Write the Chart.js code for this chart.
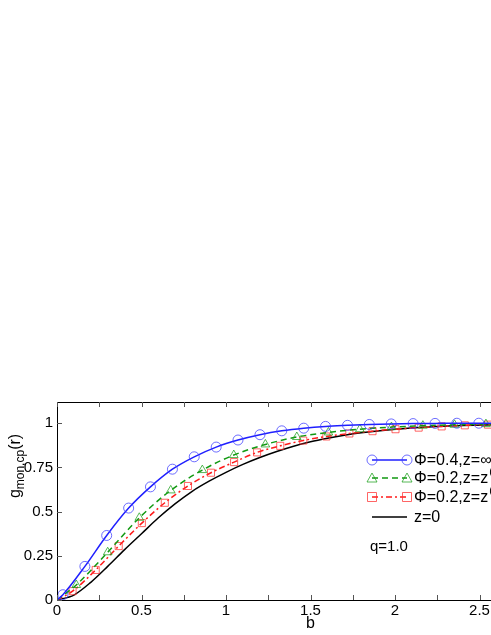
<!DOCTYPE html>
<html>
<head>
<meta charset="utf-8">
<script src="https://cdn.jsdelivr.net/npm/chart.js@4.4.1/dist/chart.umd.min.js"></script>
<style>
html, body { margin: 0; padding: 0; background: #fff; overflow: hidden; }
#wrap { width: 491px; height: 635px; overflow: hidden; position: relative; }
canvas { position: absolute; left: 0; top: 0; }
</style>
</head>
<body>
<div id="wrap"><canvas id="c" width="600" height="635"></canvas></div>
<script>
// values
const phi04X = [0, 0.035, 0.165, 0.294, 0.424, 0.553, 0.683, 0.812, 0.942, 1.071, 1.201, 1.33, 1.46, 1.589, 1.719, 1.848, 1.978, 2.107, 2.237, 2.366, 2.496, 2.625, 2.755, 2.884]
const phi04Y = [0, 0.03, 0.19, 0.365, 0.52, 0.64, 0.74, 0.81, 0.865, 0.905, 0.935, 0.957, 0.972, 0.982, 0.988, 0.993, 0.996, 0.998, 0.999, 1, 1, 1, 1, 1]

const z1X = [0, 0.114, 0.3, 0.487, 0.673, 0.86, 1.046, 1.233, 1.419, 1.606, 1.792, 1.979, 2.165, 2.352, 2.538, 2.725, 2.911]
const z1Y = [0, 0.085, 0.27, 0.465, 0.62, 0.735, 0.82, 0.88, 0.922, 0.948, 0.966, 0.978, 0.986, 0.991, 0.995, 0.997, 0.998]

const z2X = [0, 0.092, 0.229, 0.365, 0.502, 0.638, 0.775, 0.911, 1.048, 1.184, 1.321, 1.457, 1.594, 1.73, 1.867, 2.003, 2.14, 2.276, 2.413, 2.55, 2.686, 2.823, 2.959]
const z2Y = [0, 0.05, 0.17, 0.305, 0.435, 0.55, 0.645, 0.72, 0.78, 0.835, 0.872, 0.902, 0.925, 0.942, 0.955, 0.966, 0.975, 0.982, 0.988, 0.992, 0.994, 0.996, 0.997]

const z0X = [0, 0.1, 0.2, 0.3, 0.4, 0.5, 0.6, 0.7, 0.8, 0.9, 1.0, 1.1, 1.2, 1.3, 1.4, 1.5, 1.6, 1.7, 1.8, 2.0, 2.2, 2.4, 2.6, 2.8, 3.0]
const z0Y = [0, 0.028, 0.1, 0.19, 0.285, 0.375, 0.465, 0.545, 0.615, 0.672, 0.722, 0.767, 0.806, 0.84, 0.87, 0.895, 0.915, 0.932, 0.946, 0.966, 0.979, 0.987, 0.992, 0.995, 0.997]

const seriesNames = ['Φ=0.4,z=∞', 'Φ=0.2,z=z', 'Φ=0.2,z=z', 'z=0']
const seriesSup = ['', '(1)', '(2)', '']
const xTicks = [0, 0.25, 0.5, 0.75, 1, 1.25, 1.5, 1.75, 2, 2.25, 2.5, 2.75, 3]
const xTickLabels = ['0', '', '0.5', '', '1', '', '1.5', '', '2', '', '2.5', '', '3']
const yTicks = [0, 0.25, 0.5, 0.75, 1]
const yTickLabels = ['0', '0.25', '0.5', '0.75', '1']

const FONT = '"Liberation Sans", Arial, sans-serif'

const toPts = (xs, ys) => xs.map((x, i) => ({ x: x, y: ys[i] }))

const markerStyles = ['circle', 'triangle', 'rect', null]

const drawMarker = (ctx, style, x, y, color) => {
    ctx.save()
    ctx.setLineDash([])
    ctx.strokeStyle = color
    ctx.lineWidth = 1
    ctx.beginPath()
    if (style == 'circle') {
        ctx.arc(x, y, 5, 0, Math.PI * 2)
    } else if (style == 'triangle') {
        ctx.moveTo(x, y - 5)
        ctx.lineTo(x + 5, y + 4)
        ctx.lineTo(x - 5, y + 4)
        ctx.closePath()
    } else if (style == 'rect') {
        ctx.rect(x - 4.5, y - 4.5, 9, 9)
    }
    ctx.stroke()
    ctx.restore()
}

const framePlugin = {
    id: 'frame',
    afterDraw: chart => {
        const ctx = chart.ctx
        const a = chart.chartArea
        const xs = chart.scales.x
        const ys = chart.scales.y
        ctx.save()
        // box
        ctx.strokeStyle = '#000'
        ctx.lineWidth = 1
        ctx.strokeRect(a.left + 0.5, a.top + 0.5, a.right - a.left, a.bottom - a.top)
        // inner ticks
        ctx.strokeStyle = '#555'
        ctx.beginPath()
        xTicks.forEach(v => {
            const px = Math.round(xs.getPixelForValue(v)) + 0.5
            ctx.moveTo(px, a.bottom); ctx.lineTo(px, a.bottom - 5)
            ctx.moveTo(px, a.top); ctx.lineTo(px, a.top + 5)
        })
        yTicks.forEach(v => {
            const py = Math.round(ys.getPixelForValue(v)) + 0.5
            ctx.moveTo(a.left, py); ctx.lineTo(a.left + 5, py)
            ctx.moveTo(a.right, py); ctx.lineTo(a.right - 5, py)
        })
        ctx.stroke()

        // y title with subscript
        ctx.save()
        ctx.translate(15, 466)
        ctx.rotate(-Math.PI / 2)
        ctx.fillStyle = '#000'
        ctx.textBaseline = 'alphabetic'
        ctx.font = '16px ' + FONT
        const w1 = ctx.measureText('g').width
        const w3 = ctx.measureText('(r)').width
        ctx.font = '12px ' + FONT
        const w2 = ctx.measureText('mon,cp').width
        let x0 = -(w1 + w2 + w3) / 2
        ctx.font = '16px ' + FONT
        ctx.fillText('g', x0, 5)
        ctx.font = '12px ' + FONT
        ctx.fillText('mon,cp', x0 + w1, 9)
        ctx.font = '16px ' + FONT
        ctx.fillText('(r)', x0 + w1 + w2, 5)
        ctx.restore()

        // legend
        const rows = [460, 478, 497, 517]
        const lx1 = 372, lx2 = 407, tx = 414
        chart.data.datasets.forEach((ds, i) => {
            const y = rows[i]
            ctx.save()
            ctx.strokeStyle = ds.borderColor
            ctx.lineWidth = ds.borderWidth
            ctx.setLineDash(ds.borderDash || [])
            ctx.beginPath()
            ctx.moveTo(lx1, y); ctx.lineTo(lx2, y)
            ctx.stroke()
            ctx.restore()
            if (markerStyles[i]) {
                drawMarker(ctx, markerStyles[i], lx1, y, ds.pointBorderColor)
                drawMarker(ctx, markerStyles[i], lx2, y, ds.pointBorderColor)
            }
            ctx.fillStyle = '#000'
            ctx.textBaseline = 'middle'
            ctx.font = '16px ' + FONT
            ctx.fillText(seriesNames[i], tx, y + 1)
            if (seriesSup[i]) {
                const w = ctx.measureText(seriesNames[i]).width
                ctx.font = '11px ' + FONT
                ctx.fillText(seriesSup[i], tx + w + 1, y - 6)
            }
        })
        ctx.font = '15px ' + FONT
        ctx.textBaseline = 'middle'
        ctx.fillText('q=1.0', 370, 547)
        ctx.restore()
    }
}

new Chart('c', {
    type: 'line',
    data: {
        datasets: [{
            label: seriesNames[0],
            data: toPts(phi04X, phi04Y),
            borderColor: '#1f1fff',
            borderWidth: 1.5,
            pointStyle: 'circle',
            pointRadius: c => c.dataIndex == 0 ? 0 : 5,
            pointBorderColor: 'rgba(60,60,255,0.75)',
            pointBackgroundColor: 'rgba(0,0,0,0)',
            pointBorderWidth: 1,
            cubicInterpolationMode: 'monotone'
        }, {
            label: seriesNames[1],
            data: toPts(z1X, z1Y),
            borderColor: '#119911',
            borderWidth: 1.5,
            borderDash: [6, 4],
            pointStyle: 'triangle',
            pointRadius: c => c.dataIndex == 0 ? 0 : 5,
            pointBorderColor: 'rgba(30,160,30,0.75)',
            pointBackgroundColor: 'rgba(0,0,0,0)',
            pointBorderWidth: 1,
            cubicInterpolationMode: 'monotone'
        }, {
            label: seriesNames[2],
            data: toPts(z2X, z2Y),
            borderColor: '#ff1a1a',
            borderWidth: 1.5,
            borderDash: [6, 3, 2, 3],
            pointStyle: 'rect',
            pointRadius: c => c.dataIndex == 0 ? 0 : 5,
            pointBorderColor: 'rgba(255,50,50,0.75)',
            pointBackgroundColor: 'rgba(0,0,0,0)',
            pointBorderWidth: 1,
            cubicInterpolationMode: 'monotone'
        }, {
            label: seriesNames[3],
            data: toPts(z0X, z0Y),
            borderColor: '#000',
            borderWidth: 1.5,
            pointRadius: 0,
            pointBorderColor: '#000',
            cubicInterpolationMode: 'monotone'
        }]
    },
    options: {
        responsive: false,
        animation: false,
        devicePixelRatio: 1,
        layout: { padding: { top: 402, right: 36, bottom: 0, left: 0 } },
        plugins: { legend: { display: false }, tooltip: { enabled: false } },
        scales: {
            x: {
                type: 'linear', min: 0, max: 3,
                afterBuildTicks: s => { s.ticks = xTicks.map(v => ({ value: v })) },
                afterFit: s => { s.height = 35 },
                grid: { drawOnChartArea: false, drawTicks: false },
                border: { color: '#000' },
                ticks: {
                    autoSkip: false, maxRotation: 0, padding: 2, color: '#000',
                    font: { family: FONT, size: 15 },
                    callback: (v, i) => xTickLabels[i]
                },
                title: { display: true, text: 'b', color: '#000', font: { family: FONT, size: 16 }, padding: { top: 0, bottom: 2 } }
            },
            y: {
                type: 'linear', min: 0, max: 1.12,
                afterBuildTicks: s => { s.ticks = yTicks.map(v => ({ value: v })) },
                afterFit: s => { s.width = 57 },
                grid: { drawOnChartArea: false, drawTicks: false },
                border: { color: '#000' },
                ticks: {
                    padding: 4, color: '#000',
                    font: { family: FONT, size: 15 },
                    callback: (v, i) => yTickLabels[i]
                }
            }
        }
    },
    plugins: [framePlugin]
})
</script>
</body>
</html>
